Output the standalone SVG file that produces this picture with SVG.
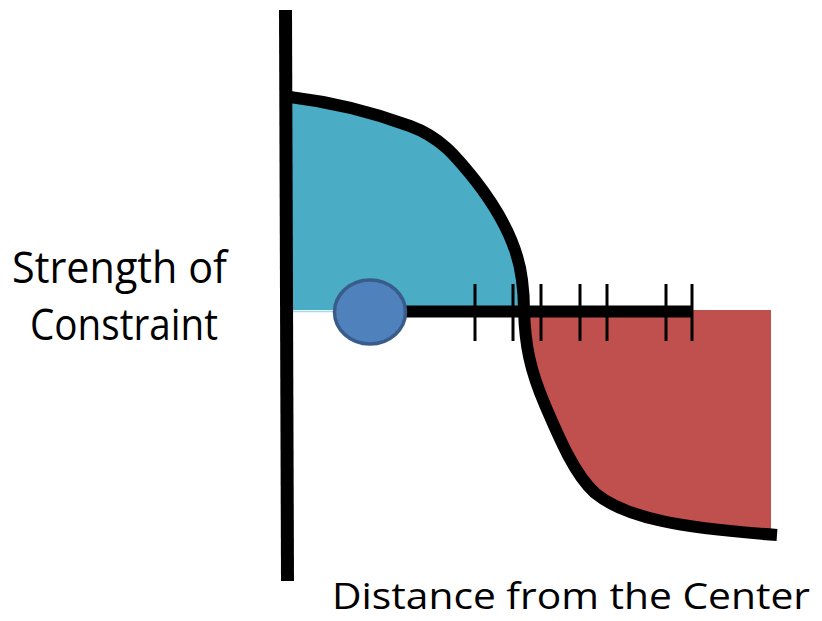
<svg xmlns="http://www.w3.org/2000/svg" width="822" height="621" viewBox="0 0 822 621">
<style>
.lbl{font-family:"Open Sans","Liberation Sans",sans-serif;fill:#000}
.tick{stroke:#000;stroke-width:3}
</style>
<rect width="822" height="621" fill="#fff"/>
<g id="blue-region">
<path d="M292,98 C340,103 380,115 410,126 C440,137 455,155 475,180 C500,212 518,245 522,280 C524,295 524,305 524,310 L292,310 Z" fill="#4BACC6"/>
<line x1="292" y1="311.5" x2="340" y2="311.5" stroke="#a9d9e6" stroke-width="1.5"/>
</g>
<g id="red-region">
<path d="M524,310 C525,345 530,370 545,405 C560,440 575,475 595,493 C625,518 680,528 771,533 L771,310 Z" fill="#C0504D"/>
</g>
<g id="connectors">
<line x1="370" y1="311.5" x2="693" y2="311.5" stroke="#000" stroke-width="12"/>
<line class="tick" x1="475" y1="284" x2="475" y2="341"/>
<line class="tick" x1="513" y1="284" x2="513" y2="341"/>
<line class="tick" x1="541" y1="284" x2="541" y2="341"/>
<line class="tick" x1="580" y1="284" x2="580" y2="341"/>
<line class="tick" x1="607" y1="284" x2="607" y2="341"/>
<line class="tick" x1="666" y1="284" x2="666" y2="341"/>
<line class="tick" x1="692" y1="284" x2="692" y2="341"/>
</g>
<g id="curve">
<path d="M290,97 C340,103 380,115 410,126 C440,137 455,155 475,180 C500,212 518,245 522,280 C524,295 524,305 524,310 C525,345 530,370 545,405 C560,440 575,475 595,493 C625,518 680,528 777,535" fill="none" stroke="#000" stroke-width="12"/>
</g>
<g id="axis">
<line x1="285.5" y1="10" x2="287.5" y2="581" stroke="#000" stroke-width="13"/>
</g>
<g id="marker">
<ellipse cx="370" cy="312" rx="35.5" ry="32" fill="#4F81BD" stroke="#385D8A" stroke-width="3.5"/>
</g>
<g id="labels">
<text class="lbl" x="12" y="283" font-size="44" textLength="215" lengthAdjust="spacingAndGlyphs">Strength of</text>
<text class="lbl" x="30" y="340" font-size="44" textLength="188" lengthAdjust="spacingAndGlyphs">Constraint</text>
<text class="lbl" x="332" y="609" font-size="36" textLength="478" lengthAdjust="spacingAndGlyphs">Distance from the Center</text>
</g>
</svg>
